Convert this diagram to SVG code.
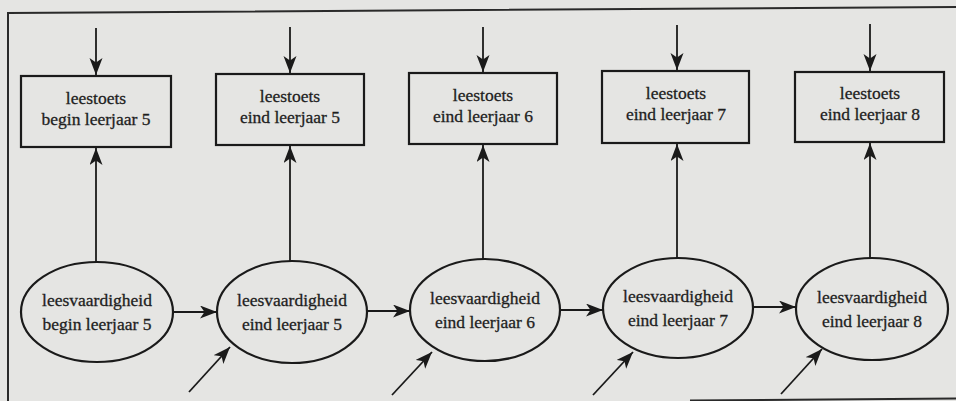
<svg xmlns="http://www.w3.org/2000/svg" width="956" height="401" viewBox="0 0 956 401">
  <defs>
    <marker id="head" markerUnits="userSpaceOnUse" markerWidth="20" markerHeight="16" refX="17" refY="6.5" orient="auto">
      <path d="M0,0 L17,6.5 L0,13 L4.5,6.5 Z" fill="#1a1a1a"/>
    </marker>
    <style>
      .box { fill: none; stroke: #1a1a1a; stroke-width: 2.2; }
      .oval { fill: none; stroke: #1a1a1a; stroke-width: 2.2; }
      .lbl { font-family: "Liberation Serif", "Times New Roman", serif; font-size: 17.5px; fill: #1e1e1e; stroke: #1e1e1e; stroke-width: 0.3; text-anchor: middle; }
      .edge { fill: none; stroke: #1a1a1a; stroke-width: 1.8; marker-end: url(#head); }
      .frame { fill: none; stroke: #2a2a2a; stroke-width: 2; }
    </style>
  </defs>

  <!-- paper -->
  <rect x="0" y="0" width="956" height="401" fill="#e5e5e3"/>
  <path class="frame" d="M956,7 L8,13 L8,401"/>
  <path class="frame" d="M690,400.5 L956,398.5"/>

  <!-- test boxes -->
  <g id="toets5begin">
    <rect class="box" x="21" y="76" width="150" height="71"/>
    <text class="lbl" x="96" y="104">leestoets</text>
    <text class="lbl" x="96" y="125">begin leerjaar 5</text>
  </g>
  <g id="toets5eind">
    <rect class="box" x="216" y="74" width="148" height="71"/>
    <text class="lbl" x="290" y="102">leestoets</text>
    <text class="lbl" x="290" y="123">eind leerjaar 5</text>
  </g>
  <g id="toets6eind">
    <rect class="box" x="409" y="73" width="148" height="71"/>
    <text class="lbl" x="483" y="101">leestoets</text>
    <text class="lbl" x="483" y="122">eind leerjaar 6</text>
  </g>
  <g id="toets7eind">
    <rect class="box" x="602" y="71" width="147" height="72"/>
    <text class="lbl" x="676" y="99">leestoets</text>
    <text class="lbl" x="676" y="120">eind leerjaar 7</text>
  </g>
  <g id="toets8eind">
    <rect class="box" x="795" y="72" width="149" height="70"/>
    <text class="lbl" x="870" y="99">leestoets</text>
    <text class="lbl" x="870" y="120">eind leerjaar 8</text>
  </g>

  <!-- latent reading ability -->
  <g id="vaardigheid5begin">
    <ellipse class="oval" cx="97" cy="312" rx="76" ry="50"/>
    <text class="lbl" x="97" y="306">leesvaardigheid</text>
    <text class="lbl" x="97" y="330">begin leerjaar 5</text>
  </g>
  <g id="vaardigheid5eind">
    <ellipse class="oval" cx="292" cy="312" rx="75" ry="51"/>
    <text class="lbl" x="292" y="306">leesvaardigheid</text>
    <text class="lbl" x="292" y="330">eind leerjaar 5</text>
  </g>
  <g id="vaardigheid6eind">
    <ellipse class="oval" cx="485" cy="310" rx="75" ry="51"/>
    <text class="lbl" x="485" y="304">leesvaardigheid</text>
    <text class="lbl" x="485" y="328">eind leerjaar 6</text>
  </g>
  <g id="vaardigheid7eind">
    <ellipse class="oval" cx="678" cy="308" rx="75" ry="50"/>
    <text class="lbl" x="678" y="302">leesvaardigheid</text>
    <text class="lbl" x="678" y="326">eind leerjaar 7</text>
  </g>
  <g id="vaardigheid8eind">
    <ellipse class="oval" cx="872" cy="309" rx="76" ry="51"/>
    <text class="lbl" x="872" y="303">leesvaardigheid</text>
    <text class="lbl" x="872" y="327">eind leerjaar 8</text>
  </g>

  <g id="connectors">
    <!-- measurement error into each test -->
    <line class="edge" x1="96" y1="28" x2="96" y2="75"/>
    <line class="edge" x1="290" y1="27" x2="290" y2="73"/>
    <line class="edge" x1="483" y1="27" x2="483" y2="72"/>
    <line class="edge" x1="677" y1="25" x2="677" y2="70"/>
    <line class="edge" x1="870" y1="24" x2="870" y2="71"/>
    <!-- ability to test -->
    <line class="edge" x1="96" y1="262" x2="96" y2="148"/>
    <line class="edge" x1="290" y1="261" x2="290" y2="146"/>
    <line class="edge" x1="483" y1="259" x2="483" y2="145"/>
    <line class="edge" x1="677" y1="258" x2="677" y2="144"/>
    <line class="edge" x1="870" y1="258" x2="870" y2="143"/>
    <!-- ability over time -->
    <line class="edge" x1="173" y1="312" x2="217" y2="312"/>
    <line class="edge" x1="367" y1="311" x2="410" y2="311"/>
    <line class="edge" x1="560" y1="310" x2="603" y2="310"/>
    <line class="edge" x1="753" y1="307" x2="796" y2="307"/>
    <!-- disturbances -->
    <line class="edge" x1="189" y1="392" x2="230" y2="347"/>
    <line class="edge" x1="392" y1="395" x2="432" y2="352"/>
    <line class="edge" x1="593" y1="395" x2="633" y2="352"/>
    <line class="edge" x1="781" y1="394" x2="822" y2="349"/>
  </g>
</svg>
